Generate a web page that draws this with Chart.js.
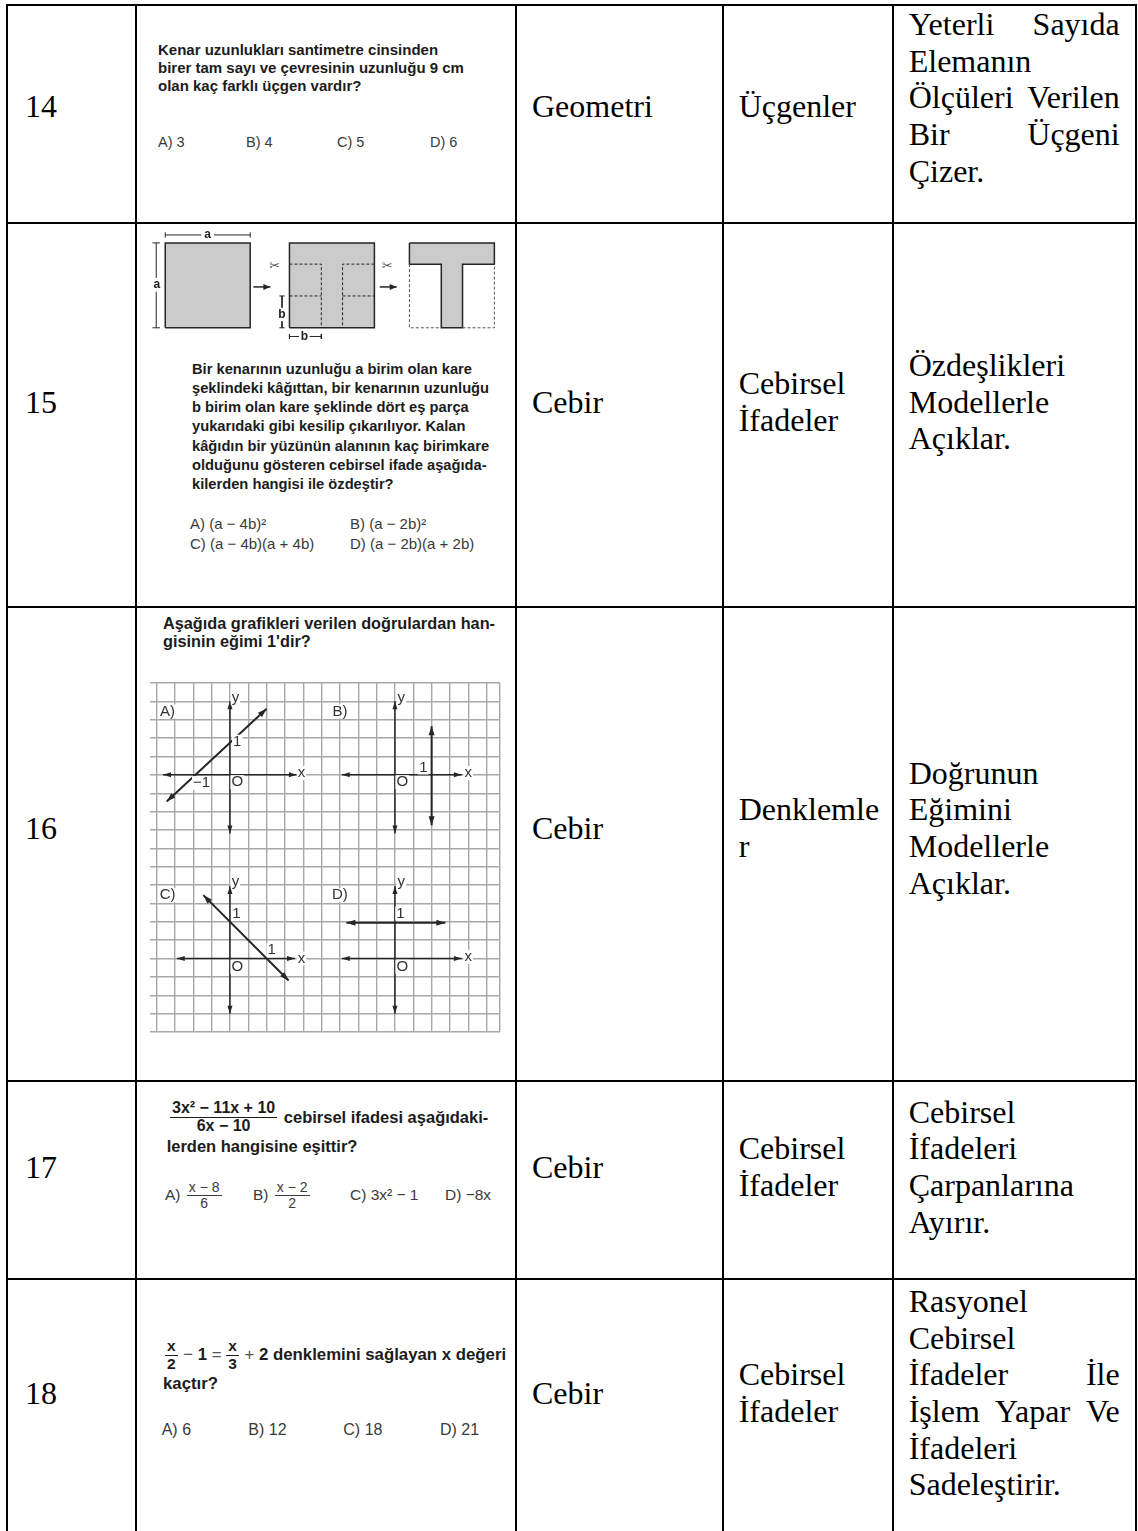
<!DOCTYPE html>
<html lang="tr">
<head>
<meta charset="utf-8">
<title>Soru - kazanım tablosu</title>
<script src="https://cdn.jsdelivr.net/npm/chart.js@4.4.1/dist/chart.umd.min.js"></script>
<style>
  html, body { margin: 0; padding: 0; background: #fff; }
  #page { position: relative; width: 1138px; height: 1531px; overflow: hidden; }
  .rule { position: absolute; background: #000; }
  .cell { position: absolute; box-sizing: border-box; display: flex; align-items: center;
          font-family: "Liberation Serif", "Times New Roman", serif; font-size: 32px;
          line-height: 36.7px; color: #000; overflow-wrap: break-word; }
  .cell > div { width: 100%; }
  .cell.just > div { text-align: justify; }
  .q { position: absolute; font-family: "Liberation Sans", Arial, sans-serif; font-weight: bold;
       color: #1c1c1c; white-space: nowrap; }
  .opt { position: absolute; font-family: "Liberation Sans", Arial, sans-serif; color: #3a3a3a;
         white-space: nowrap; display: flex; align-items: center; }
  .frac { display: inline-flex; flex-direction: column; align-items: center; vertical-align: middle;
          line-height: 1.05; margin: 0 2px; }
  .frac > span:first-child { border-bottom: 1.5px solid currentColor; padding: 0 2px; }
  .thin { font-weight: normal; color: #555; white-space: pre; }
  canvas { position: absolute; }
</style>
</head>
<body>
<div id="page">

  <!-- Soru 14 -->
  <div class="q" style="left:158px; top:41px; font-size:15px; line-height:18px;">
    <div>Kenar uzunlukları santimetre cinsinden</div>
    <div>birer tam sayı ve çevresinin uzunluğu 9 cm</div>
    <div>olan kaç farklı üçgen vardır?</div>
  </div>
  <div class="opt" style="left:158px; top:133px; font-size:14.5px; height:18px;">A) 3</div>
  <div class="opt" style="left:246px; top:133px; font-size:14.5px; height:18px;">B) 4</div>
  <div class="opt" style="left:337px; top:133px; font-size:14.5px; height:18px;">C) 5</div>
  <div class="opt" style="left:430px; top:133px; font-size:14.5px; height:18px;">D) 6</div>

  <!-- Soru 15 -->
  <canvas id="sekil15" width="361" height="122" style="left:144px; top:227px;"></canvas>
  <div class="q" style="left:192px; top:359.7px; font-size:14.7px; line-height:19.2px;">
    <div>Bir kenarının uzunluğu a birim olan kare</div>
    <div>şeklindeki kâğıttan, bir kenarının uzunluğu</div>
    <div>b birim olan kare şeklinde dört eş parça</div>
    <div>yukarıdaki gibi kesilip çıkarılıyor. Kalan</div>
    <div>kâğıdın bir yüzünün alanının kaç birimkare</div>
    <div>olduğunu gösteren cebirsel ifade aşağıda-</div>
    <div>kilerden hangisi ile özdeştir?</div>
  </div>
  <div class="opt" style="left:190px; top:513px; font-size:15px; height:20px;">A) (a − 4b)²</div>
  <div class="opt" style="left:350px; top:513px; font-size:15px; height:20px;">B) (a − 2b)²</div>
  <div class="opt" style="left:190px; top:533px; font-size:15px; height:20px;">C) (a − 4b)(a + 4b)</div>
  <div class="opt" style="left:350px; top:533px; font-size:15px; height:20px;">D) (a − 2b)(a + 2b)</div>

  <!-- Soru 16 -->
  <div class="q" style="left:163px; top:613.8px; font-size:16.3px; line-height:18.3px;">
    <div>Aşağıda grafikleri verilen doğrulardan han-</div>
    <div>gisinin eğimi 1'dir?</div>
  </div>
  <canvas id="grafik16" width="370" height="370" style="left:140px; top:673px;"></canvas>

  <!-- Soru 17 -->
  <div class="q" style="left:168px; top:1099px; height:36px; font-size:16.5px; display:flex; align-items:center;">
    <span class="frac" style="font-size:16px;"><span>3x² − 11x + 10</span><span>6x − 10</span></span>
    <span>&nbsp;cebirsel ifadesi aşağıdaki-</span>
  </div>
  <div class="q" style="left:166.7px; top:1137px; font-size:16.5px; line-height:19px;">lerden hangisine eşittir?</div>
  <div class="opt" style="left:165px; top:1178px; height:34px; font-size:15.5px;">A)&nbsp;<span class="frac" style="font-size:14px;"><span>x − 8</span><span>6</span></span></div>
  <div class="opt" style="left:253px; top:1178px; height:34px; font-size:15.5px;">B)&nbsp;<span class="frac" style="font-size:14px;"><span>x − 2</span><span>2</span></span></div>
  <div class="opt" style="left:350px; top:1178px; height:34px; font-size:15.5px;">C) 3x² − 1</div>
  <div class="opt" style="left:445px; top:1178px; height:34px; font-size:15.5px;">D) −8x</div>

  <!-- Soru 18 -->
  <div class="q" style="left:165px; top:1337px; height:36px; font-size:16.8px; display:flex; align-items:center;">
    <span class="frac" style="font-size:15.5px; margin:0 1px 0 0;"><span>x</span><span>2</span></span>
    <span class="thin"> − </span><span>1</span><span class="thin"> = </span>
    <span class="frac" style="font-size:15.5px; margin:0 1px 0 0;"><span>x</span><span>3</span></span>
    <span class="thin"> + </span><span>2 denklemini sağlayan x değeri</span>
  </div>
  <div class="q" style="left:163px; top:1374px; font-size:16.8px; line-height:20px;">kaçtır?</div>
  <div class="opt" style="left:161.7px; top:1420px; font-size:16px; height:20px;">A) 6</div>
  <div class="opt" style="left:248.3px; top:1420px; font-size:16px; height:20px;">B) 12</div>
  <div class="opt" style="left:343.3px; top:1420px; font-size:16px; height:20px;">C) 18</div>
  <div class="opt" style="left:440px; top:1420px; font-size:16px; height:20px;">D) 21</div>
</div>

<script>
// ---- table text (columns 1, 3, 4, 5) ----
const soruNo = ['14', '15', '16', '17', '18'];
const ogrenmeAlani = ['Geometri', 'Cebir', 'Cebir', 'Cebir', 'Cebir'];
const altOgrenmeAlani = ['Üçgenler', 'Cebirsel İfadeler', 'Denklemler', 'Cebirsel İfadeler', 'Cebirsel İfadeler'];
const kazanim = [
  'Yeterli Sayıda Elemanın Ölçüleri Verilen Bir Üçgeni Çizer.',
  'Özdeşlikleri Modellerle Açıklar.',
  'Doğrunun Eğimini Modellerle Açıklar.',
  'Cebirsel İfadeleri Çarpanlarına Ayırır.',
  'Rasyonel Cebirsel İfadeler İle İşlem Yapar Ve İfadeleri Sadeleştirir.'
];

// ---- question 15 figure (units: a = 8, b = 3) ----
const kare1 = [[0, 0], [8, 0], [8, 8], [0, 8], [0, 0]];
const kare2 = [[11.7, 0], [19.7, 0], [19.7, 8], [11.7, 8], [11.7, 0]];
const kesimSol = [[11.7, 6], [14.7, 6], [14.7, 0]];
const kesimSolAlt = [[11.7, 3], [14.7, 3]];
const kesimSag = [[19.7, 6], [16.7, 6], [16.7, 0]];
const kesimSagAlt = [[16.7, 3], [19.7, 3]];
const tSekli = [[23, 8], [31, 8], [31, 6], [28, 6], [28, 0], [26, 0], [26, 6], [23, 6], [23, 8]];
const tBosSol = [[23, 6], [23, 0], [26, 0]];
const tBosSag = [[28, 0], [31, 0], [31, 6]];
const ok1 = [[8.3, 3.85], [9.9, 3.85]];
const ok2 = [[20.2, 3.85], [21.8, 3.85]];
const olcuUst = [[0, 8.5], [0, 9], null, [0, 8.75], [3.4, 8.75], null, [4.6, 8.75], [8, 8.75], null, [8, 8.5], [8, 9]];
const olcuSol = [[-1.2, 0], [-0.5, 0], null, [-0.85, 0], [-0.85, 3.4], null, [-0.85, 4.7], [-0.85, 8], null, [-1.2, 8], [-0.5, 8]];
const olcuB1 = [[10.75, 3], [11.25, 3], null, [11, 3], [11, 1.9], null, [11, 0.6], [11, 0], null, [10.75, 0], [11.25, 0]];
const olcuB2 = [[11.7, -0.6], [11.7, -1.05], null, [11.7, -0.82], [12.6, -0.82], null, [13.6, -0.82], [14.7, -0.82], null, [14.7, -0.6], [14.7, -1.05]];
const sekilEtiket = [['a', 4, 8.75], ['a', -0.8, 4.05], ['b', 11.0, 1.25], ['b', 13.1, -0.85]];
const makasEtiket = [['✂', 10.3, 5.75], ['✂', 20.9, 5.75]];

// ---- question 16 graphs (units: grid squares, 1 on the graph = 2 squares) ----
const eksenXA = [[-3.65, 0], [3.65, 0]];
const eksenYA = [[0, -3.2], [0, 4]];
const dogruA = [[-3.45, -1.45], [2.0, 3.6]];
const eksenXB = [[6.1, 0], [12.65, 0]];
const eksenYB = [[9, -3.2], [9, 4]];
const dogruB = [[11, -2.75], [11, 2.65]];
const eksenXC = [[-2.9, -10], [3.55, -10]];
const eksenYC = [[0, -13], [0, -6.05]];
const dogruC = [[-1.45, -6.55], [3.2, -11.2]];
const eksenXD = [[6.1, -10], [12.65, -10]];
const eksenYD = [[9, -13], [9, -6.05]];
const dogruD = [[6.35, -8.05], [11.75, -8.05]];
const grafikEtiket = ['A)', 'B)', 'C)', 'D)', 'x', 'x', 'x', 'x', 'y', 'y', 'y', 'y', 'O', 'O', 'O', 'O', '1', '−1', '1', '1', '1', '1'];
const grafikEtiketX = [-3.4, 6.0, -3.4, 6.0, 3.9, 13.0, 3.9, 13.0, 0.3, 9.35, 0.3, 9.35, 0.4, 9.4, 0.4, 9.4, 0.4, -1.55, 10.55, 0.35, 2.27, 9.3];
const grafikEtiketY = [3.45, 3.45, -6.55, -6.55, 0.1, 0.1, -10, -9.9, 4.2, 4.2, -5.8, -5.8, -0.4, -0.4, -10.45, -10.45, 1.8, -0.45, 0.4, -7.55, -9.55, -7.55];

const INK = '#262626';

// table rules and cells
const page = document.getElementById('page');
const colEdges = [7, 136, 516, 722.7, 892.7, 1135.7];
const rowEdges = [5, 223, 607, 1081, 1279, 1533];
const rowPad = [15, 26, 32, 26, 26];

function addDiv(cls, style, html) {
  const d = document.createElement('div');
  d.className = cls;
  Object.assign(d.style, style);
  if (html !== undefined) d.innerHTML = html;
  page.appendChild(d);
  return d;
}

colEdges.forEach(x => addDiv('rule', { left: (x - 1) + 'px', top: '4px', width: '2px', height: '1540px' }));
rowEdges.forEach(y => addDiv('rule', { left: '6px', top: (y - 1) + 'px', width: '1131px', height: '2px' }));

const columns = [[0, soruNo], [2, ogrenmeAlani], [3, altOgrenmeAlani], [4, kazanim]];
soruNo.forEach((_, r) => {
  columns.forEach(([c, list]) => {
    const top = rowEdges[r] + 1, h = rowEdges[r + 1] - rowEdges[r] - 2;
    const left = colEdges[c] + 1, w = colEdges[c + 1] - colEdges[c] - 2;
    const topAligned = (r === 0 && c === 4);
    const padLeft = c === 0 ? 17 : 15;
    const padRight = c === 3 ? 8 : 15;
    addDiv('cell' + (c === 4 ? ' just' : ''), {
      left: left + 'px', top: top + 'px', width: w + 'px', height: h + 'px',
      padding: topAligned ? `0 ${padRight}px 0 ${padLeft}px` : `0 ${padRight}px ${rowPad[r]}px ${padLeft}px`,
      alignItems: topAligned ? 'flex-start' : 'center'
    }, '<div>' + list[r] + '</div>');
  });
});

// chart helpers
function pts(list) {
  return list.map(p => p ? { x: p[0], y: p[1] } : { x: null, y: null });
}

function seg(list, extra) {
  return Object.assign({
    data: pts(list), showLine: true, spanGaps: false, pointRadius: 0, pointHoverRadius: 0,
    borderColor: INK, borderWidth: 1.5, backgroundColor: 'transparent', fill: false, order: 0
  }, extra);
}

function drawTip(ctx, a, b, len, half) {
  const ang = Math.atan2(b.y - a.y, b.x - a.x);
  const c = Math.cos(ang), s = Math.sin(ang);
  ctx.beginPath();
  ctx.moveTo(b.x, b.y);
  ctx.lineTo(b.x - len * c + half * s, b.y - len * s - half * c);
  ctx.lineTo(b.x - len * c - half * s, b.y - len * s + half * c);
  ctx.closePath();
  ctx.fill();
}

const arrowHeads = {
  id: 'arrowHeads',
  afterDatasetsDraw(chart) {
    const ctx = chart.ctx;
    chart.data.datasets.forEach((ds, i) => {
      if (!ds.arrows) return;
      const el = chart.getDatasetMeta(i).data;
      const n = el.length;
      const [len, half] = ds.arrowSize || [9, 3];
      ctx.save();
      ctx.fillStyle = ds.borderColor;
      drawTip(ctx, el[n - 2], el[n - 1], len, half);
      if (ds.arrows === 'both') drawTip(ctx, el[1], el[0], len, half);
      ctx.restore();
    });
  }
};

function textLayer(id, items, font, color, boxed) {
  return {
    id,
    afterDatasetsDraw(chart) {
      const { ctx, scales } = chart;
      ctx.save();
      ctx.font = font;
      ctx.textAlign = 'center';
      ctx.textBaseline = 'middle';
      items.forEach(([t, x, y]) => {
        const px = scales.x.getPixelForValue(x);
        const py = scales.y.getPixelForValue(y);
        if (boxed) {
          const w = ctx.measureText(t).width;
          ctx.fillStyle = '#fff';
          ctx.fillRect(px - w / 2 - 1, py - 7, w + 2, 14);
        }
        ctx.fillStyle = color;
        ctx.fillText(t, px, py);
      });
      ctx.restore();
    }
  };
}

const common = {
  responsive: false,
  animation: false,
  events: [],
  plugins: { legend: { display: false }, tooltip: { enabled: false } }
};

// question 15 figure; filled shapes get a higher order so they sit underneath
const shapeFill = { fill: 'shape', backgroundColor: '#cbcbcb', order: 2 };
const dashed = { borderDash: [3, 2], borderWidth: 1 };

new Chart(document.getElementById('sekil15'), {
  type: 'scatter',
  data: {
    datasets: [
      seg(kare1, shapeFill),
      seg(kare2, shapeFill),
      seg(tSekli, shapeFill),
      seg(kesimSol, dashed),
      seg(kesimSolAlt, dashed),
      seg(kesimSag, dashed),
      seg(kesimSagAlt, dashed),
      seg(tBosSol, Object.assign({ borderColor: '#555' }, dashed)),
      seg(tBosSag, Object.assign({ borderColor: '#555' }, dashed)),
      seg(ok1, { arrows: 'end', arrowSize: [7, 3] }),
      seg(ok2, { arrows: 'end', arrowSize: [7, 3] }),
      seg(olcuUst, { borderWidth: 1 }),
      seg(olcuSol, { borderWidth: 1 }),
      seg(olcuB1, { borderWidth: 1 }),
      seg(olcuB2, { borderWidth: 1 })
    ]
  },
  options: Object.assign({}, common, {
    layout: { padding: 0 },
    scales: {
      x: { type: 'linear', display: false, min: -2, max: 32 },
      y: { type: 'linear', display: false, min: -2, max: 9.5 }
    }
  }),
  plugins: [
    arrowHeads,
    textLayer('labels15', sekilEtiket, 'bold 12px "Liberation Sans", Arial, sans-serif', '#222', false),
    textLayer('scissors15', makasEtiket, '13px "DejaVu Sans", sans-serif', '#555', false)
  ]
});

// question 16 graphs
const gridXValues = Array.from({ length: 19 }, (_, i) => i - 4).concat([14.73]);
const gridYValues = Array.from({ length: 20 }, (_, i) => i - 14);
const gridStyle = { color: '#a8a8a8', lineWidth: 1.4, drawTicks: false };

new Chart(document.getElementById('grafik16'), {
  type: 'scatter',
  data: {
    datasets: [
      seg(eksenXA, { arrows: 'both', arrowSize: [8, 2.5] }),
      seg(eksenYA, { arrows: 'both', arrowSize: [8, 2.5] }),
      seg(dogruA, { arrows: 'both', borderWidth: 2, arrowSize: [9, 3] }),
      seg(eksenXB, { arrows: 'both', arrowSize: [8, 2.5] }),
      seg(eksenYB, { arrows: 'both', arrowSize: [8, 2.5] }),
      seg(dogruB, { arrows: 'both', borderWidth: 2, arrowSize: [9, 3] }),
      seg(eksenXC, { arrows: 'both', arrowSize: [8, 2.5] }),
      seg(eksenYC, { arrows: 'both', arrowSize: [8, 2.5] }),
      seg(dogruC, { arrows: 'both', borderWidth: 2, arrowSize: [9, 3] }),
      seg(eksenXD, { arrows: 'both', arrowSize: [8, 2.5] }),
      seg(eksenYD, { arrows: 'both', arrowSize: [8, 2.5] }),
      seg(dogruD, { arrows: 'both', borderWidth: 2, arrowSize: [9, 3] })
    ]
  },
  options: Object.assign({}, common, {
    layout: { padding: { left: 10, right: 10, top: 10, bottom: 11 } },
    scales: {
      x: {
        type: 'linear', min: -4.36, max: 14.73,
        afterBuildTicks: scale => { scale.ticks = gridXValues.map(v => ({ value: v })); },
        ticks: { display: false }, grid: gridStyle, border: { display: false }
      },
      y: {
        type: 'linear', min: -14, max: 5,
        afterBuildTicks: scale => { scale.ticks = gridYValues.map(v => ({ value: v })); },
        ticks: { display: false }, grid: gridStyle, border: { display: false }
      }
    }
  }),
  plugins: [
    arrowHeads,
    textLayer('labels16', grafikEtiket.map((t, i) => [t, grafikEtiketX[i], grafikEtiketY[i]]),
      '15px "Liberation Sans", Arial, sans-serif', '#333', true)
  ]
});
</script>
</body>
</html>
